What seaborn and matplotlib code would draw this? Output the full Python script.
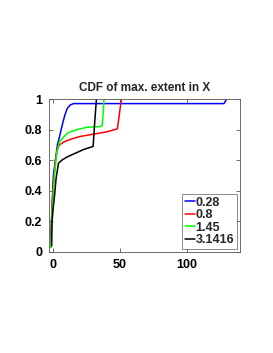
import pandas as pd
import matplotlib
matplotlib.use("Agg")
import matplotlib.pyplot as plt
import seaborn as sns

# values
labels = ["0.28", "0.8", "1.45", "3.1416"]
colors = ["#0000ff", "#ff0000", "#00ff00", "#000000"]

x_028 = [-2, -1, 0, 1.5, 3, 4.5, 5.8, 7.5, 8.8, 10.5, 12.5, 15, 30, 128, 129, 130]
y_028 = [0.07, 0.3, 0.5, 0.6, 0.7, 0.75, 0.8, 0.86, 0.9, 0.94, 0.96, 0.97, 0.97, 0.97, 0.985, 1.0]

x_08 = [-2, -1, 0, 1.5, 3, 4.5, 8, 14, 20, 30, 40, 48, 49.5, 51]
y_08 = [0.03, 0.3, 0.45, 0.6, 0.67, 0.7, 0.72, 0.74, 0.755, 0.77, 0.785, 0.805, 0.9, 1.0]

x_145 = [-2, -1, 0, 1, 2.5, 4.5, 7.5, 11, 17.7, 25, 35, 36.6, 37.3, 38]
y_145 = [0.03, 0.25, 0.4, 0.52, 0.65, 0.72, 0.75, 0.78, 0.8, 0.815, 0.82, 0.825, 0.9, 1.0]

x_31416 = [-1.3, -1, 0, 1, 2, 3.8, 6.3, 10, 15, 22.7, 29.8, 31, 32.3]
y_31416 = [0.04, 0.2, 0.3, 0.38, 0.48, 0.58, 0.6, 0.62, 0.64, 0.67, 0.69, 0.85, 1.0]

xs = [x_028, x_08, x_145, x_31416]
ys = [y_028, y_08, y_145, y_31416]

rows = []
for lab, xv, yv in zip(labels, xs, ys):
    for a, b in zip(xv, yv):
        rows.append({"x": a, "y": b, "series": lab})
df = pd.DataFrame(rows)

sns.set_style("ticks")
plt.rcParams["font.family"] = ["Liberation Sans", "DejaVu Sans"]
plt.rcParams["font.weight"] = "bold"

fig = plt.figure(figsize=(2.73, 3.53), dpi=100)
ax = fig.add_axes([49 / 273, 1 - 252 / 353, 191 / 273, 153 / 353])

sns.lineplot(data=df, x="x", y="y", hue="series", hue_order=labels,
             palette=colors, sort=False, estimator=None, units="series",
             linewidth=1.1, ax=ax)

ax.set_xlim(-3.3, 140)
ax.set_ylim(0, 1)
ax.set_xticks([0, 50, 100])
ax.set_xticklabels(["0", "50", "100"])
ax.set_yticks([0, 0.2, 0.4, 0.6, 0.8, 1.0])
ax.set_yticklabels(["0", "0.2", "0.4", "0.6", "0.8", "1"])
ax.tick_params(direction="in", length=3, width=0.5, labelsize=9, pad=5,
               top=True, right=True, colors="#333333", labelcolor="black")
for lbl in ax.get_xticklabels() + ax.get_yticklabels():
    lbl.set_fontweight("bold")
for s in ax.spines.values():
    s.set_linewidth(0.6)
    s.set_color("#555555")
ax.set_xlabel("")
ax.set_ylabel("")
ax.set_title("CDF of max. extent in X", fontsize=8.5, fontweight="bold", pad=6)

leg = ax.legend(loc="lower right", fontsize=9, frameon=True, fancybox=False,
                edgecolor="#555555", handlelength=0.8, handletextpad=0.1,
                borderpad=0.2, labelspacing=0.05, borderaxespad=0.25)
leg.get_frame().set_linewidth(0.6)
for t in leg.get_texts():
    t.set_fontweight("bold")

fig.savefig("out.png", dpi=100)
